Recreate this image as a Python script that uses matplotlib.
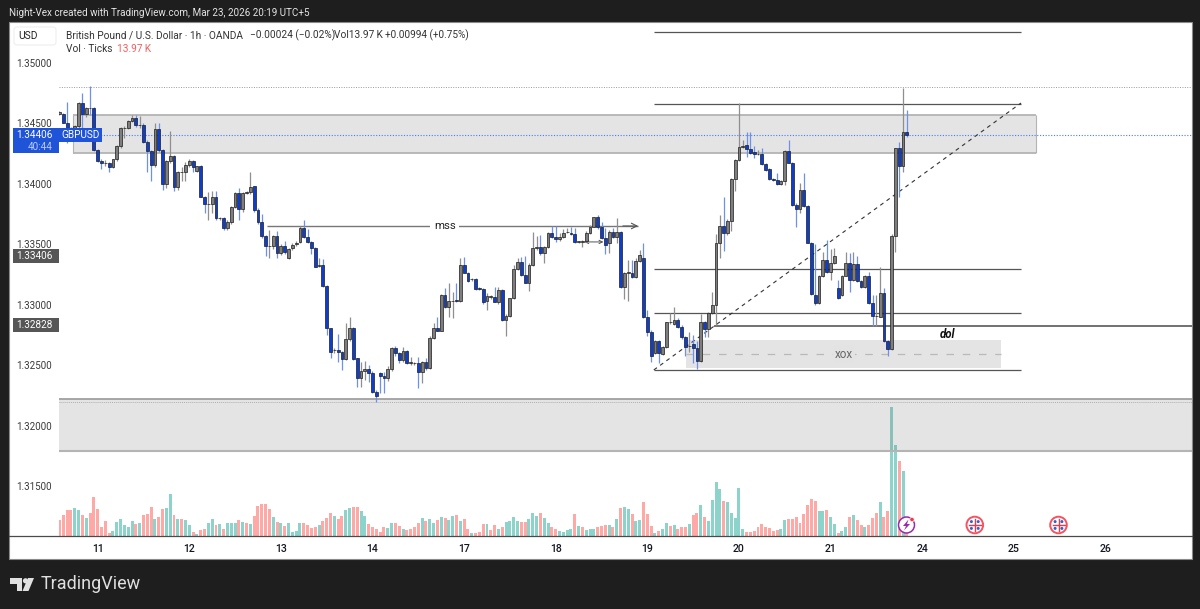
import matplotlib
matplotlib.use("Agg")
import matplotlib.pyplot as plt
from matplotlib.patches import Rectangle, Circle, Polygon, FancyBboxPatch

# ---------- data (prices given as pips above 1.3000) ----------
open_pips = [457.8,457.5,450.6,446.5,441.8,447.9,467.2,457.5,463,462.5,
428,418.9,417,417.5,413.7,420.3,431.3,445.9,446,452,
454.2,448.7,449,434.9,427.2,416,445.7,428,399.6,418.9,
423,397.7,410,410,415.3,418.9,411,414.8,389.4,383,
383,388.9,371.5,372,363.2,368.7,381,392.7,379,392.7,
393.5,398.3,378.4,368.8,357.2,348.6,348.6,357,342.6,348.6,
339,346.7,350,352.2,363.8,356.4,352.2,346.7,332.4,332.6,
315.8,280.5,262.6,262.6,260.7,255,271.7,281,255.7,239.2,
245,247,243.9,227.6,243.3,241.1,239.2,246.9,264,260,
254,262,252.1,251.6,251.6,244.1,252.4,248,272.8,280.5,
278.6,308.1,298,303.2,304,303.2,332.9,326.6,321,321.4,
313.6,313,303.4,306.7,306.2,302,312.3,287.4,290.8,305.4,
329.4,335.7,324.7,317.8,332.9,346.7,348.1,342.6,347.5,359.1,
356.4,354.2,356.4,359.9,359.7,358.3,352.2,352.2,353,359.1,
364.6,372.4,364.6,355,350.9,360,355.8,360.5,314.5,326.6,
326.6,322.7,336.2,338.4,290.2,277.8,259.9,270.1,259.3,265,
285.5,284,287.5,281.9,273.1,266,267.3,264,253.8,285.5,
279.7,293,299.9,350.9,365.2,359.1,369.6,403.8,419.8,430.3,
431.9,428.6,426.4,424.8,424.8,416.2,412,404.4,403.3,400,
402.7,427.2,417.6,382.6,379,395,381.8,351.4,308.1,301.8,
323.8,337,326.8,334.3,313.6,308,324.1,334.8,320.5,333.4,
319.6,315,324.1,301.7,290.7,290.1,309.5,270,263.1,357.1,
429.9,415,443.2]
close_pips = [459.7,450.6,446.5,441.8,447.9,467.2,457.5,463,462.5,428,
418.9,417,417.5,413.7,420.3,431.3,445.9,446,452,454.2,
448.7,449,434.9,427.2,416,445.7,428,399.6,418.9,423,
397.7,410,410,415.3,418.9,414.2,414.5,389.4,383,383,
388.9,371.5,372,363.2,368.7,381,392.7,379,392.7,393.5,
397.7,378.4,368.8,357.2,348.6,348.6,357,342.6,348.6,343.7,
345.9,349.5,351.5,363.8,356.4,352.2,346.7,331.5,332.4,315.8,
280.5,261.2,262.6,260.7,255,271.7,280.5,255.2,239.2,245.3,
247,243.9,227.6,224.6,241.1,239.2,246.9,264,259.8,254,
262,252.1,252.1,251.6,244.1,252.4,248,272.8,280.5,278.6,
308.1,298,303.2,303.2,303.2,332.9,326.6,319.7,321.1,313.1,
312.8,302.6,307.3,306.7,302.6,312.3,287.4,290.8,305.4,329.4,
335.7,324.7,318.3,332.9,347.3,348.1,342.6,347.5,359.1,356.4,
354.2,356.4,359.7,360,358.3,352.2,352.2,353,359.1,364.6,
372.4,364.1,355.5,349.5,360.5,356.4,360,314.5,326.6,326.6,
322.7,336.2,341.2,289.7,277.8,258,270.1,259.9,265.4,285.5,
285.5,287.5,281.9,273.1,264.9,266,264,253.8,285.5,279.7,
293,299.9,350.9,365.2,359.1,369.6,403.8,419.8,430.3,431.4,
429.2,425.9,424.8,424.8,416.5,411.5,404.4,403.3,399.7,402.7,
427.2,417.6,382.6,379,395,381.8,351.4,308.7,301.8,323.9,
337,326.8,334.3,340.6,305.3,324.1,334.8,320.5,333.4,319.6,
315,324.1,301.7,290.7,290.7,309.5,270,263.1,357.1,429.4,
415,443.2,440.4]
high_pips = [460.3,458.4,467.5,447,448.4,468,474.9,464,481,463.5,
428.5,421,420,418,421,432,447,447.5,453,457,
457,456,450,436,428,450.6,450.1,429,419.5,444,
424,411,414,418,421,420,415,415.3,390,393,
394,394,373,373,370,382,393.5,397,393.5,394,
409.6,398.5,380,375,358,362,358,361,350,353,
347,351,353,365.5,370,363,353,347.5,339,338,
316.5,281,264,276,262,284.7,290,282,256,253,
253.5,250,245,229.5,244.7,244.7,249,265,266,261,
265.5,263,257,253,257,253.5,255.7,274,284.7,290,
309,313.6,317.8,310.9,317.8,338.5,339.8,327,322,322,
314.5,313.5,309.5,308,315,315,313,292,306,332.9,
338.4,339.8,340.4,334.3,360.5,356.9,357.7,348.5,359.9,365.2,
365.2,359.1,362.4,363.3,364.6,363.3,353,354,361,366,
373,374.3,368.8,363.3,361.9,363.3,371.5,361,327.5,337,
337,338.4,345.3,351.4,295.7,279,271,271,266,286,
292.9,298.5,289,283,274,277.8,275,270.4,292,287,
294,310.9,358.9,374.3,389.5,371,405,421,467.2,436.3,
442.7,442.7,431.4,428,429.4,417,413,405,409.3,403.5,
428,436.3,418.5,384,400.5,409.3,382.5,352,350.3,324.5,
343.9,353.6,345.8,347.2,320.5,325,343.9,343.1,343.9,340.6,
320.5,325,327.4,308,308,331.5,313.6,271,358.5,430,
434.9,479,461]
low_pips = [457.3,450.1,433.5,438,436,443,444.6,455.6,457,427.5,
418.4,412,415,410,413,419,430,437.7,445,451,
447,446,434,410,402,414,426,395,397,417,
394,395,402,402,413.7,410,410,389,376,370,
376,370,370,362,362,367,380,370,377,392,
392,377,367,355,340,338.5,346,339,341,342,
338,345.5,349,351,355,351,342,331,331,315,
275,256,260,253,246,254,270,254,231.7,232,
237.8,236.4,227,219.3,226.8,226.8,237,245,258,252,
253,251,250,250,231,235.6,246,247,272,278,
278,297,290,289,302.5,302.5,327,319,320,312.5,
312,300.7,295.7,305,302,301,287,274.2,290,305,
329,323.8,317.8,311.7,332,345,341,334.3,347,355,
352.2,353,355.5,359,358,351.5,351.5,348,352,358.5,
364,363,354.5,342,343.1,355.5,350.9,314,304.8,303.4,
322,322,335.5,289.3,274,253,259,252,258.5,264.5,
284,283,281,272,258,261,252,246.6,253,273,
273,292,283.3,338.5,344.8,358,361.1,394.5,419,429.5,
422.6,425,421.2,424,415.5,410.5,403.5,402.5,399,399,
399.1,417,382,364.1,376.2,381,351,308,299.9,301,
323,326,320.5,333.5,304.5,307,323.5,310.3,320,319,
313.6,314,301,282.4,282.4,289.5,269.5,257.6,262.5,343.4,
388.8,410.1,438.5]
volume_k = [16,21,26,26,28,26,21,18,23,39,
27,9,15,3,5,14,17,11,9,15,
12,13,21,22,29,17,19,27,28,42,
21,17,17,16,11,4,2,6,7,13,
17,11,12,7,13,13,13,16,14,13,
12,20,30,32,32,27,19,14,13,10,
13,4,5,13,13,11,8,9,11,15,
18,23,20,17,20,26,28,29,29,25,
20,12,9,7,4,9,8,13,13,10,
7,6,7,9,13,18,15,17,13,16,
19,18,16,20,21,15,17,7,3,3,
4,12,12,6,11,7,9,14,15,19,
15,14,14,17,23,20,23,18,13,9,
7,5,4,6,7,22,10,9,6,7,
7,9,10,11,11,9,17,28,29,27,
22,15,16,34,22,10,3,5,7,13,
10,11,7,9,9,12,21,23,31,19,
15,36,54,47,35,34,23,18,48,7,
4,4,5,9,12,9,8,5,6,7,
16,17,17,19,13,22,31,37,35,25,
25,26,19,12,3,5,9,19,21,16,
11,9,11,18,23,34,19,25,129,91,
75,65,14]
volume_dir = ("RRRRTTRTRR" "RRRRTTTTTT" "RTRRRTRRTT" "RTRTTRTRRT" "TRTRTTTRTR"
              "TRRRRRTRTR" "TTTTRRRRTR" "RRTRRTTRRT" "TRRRRRTTRR" "TRRRRTRTTR"
              "TRTTRTRRTR" "RRTRRTRTTT" "TRRTTTRTTR" "RTTTTRTRTT" "TRRRTRTRTT"
              "RTTRRRTRTT" "RTRRRTRRTR" "TTTTRTTTTT" "RRRRRRRRRT" "TRRRRRRRRT"
              "TRTTRTTRTR" "RTRRRTRRTT" "RTR")
day_ticks = [10, 34, 58, 82, 106, 130, 154, 178, 202, 226, 250, 274]
day_labels = ["11","12","13","14","17","18","19","20","21","24","25","26"]
price_ticks = [1.315, 1.32, 1.325, 1.33, 1.335, 1.34, 1.345, 1.35]

# drawings (candle index, price)
zone_top = (3.5, 255.8, 1.34256, 1.34570)
zone_xox = (164.1, 246.6, 1.32477, 1.32709)
zone_low = (1.31791, 1.32221)
fib_start, fib_end = 155.7, 251.9
fib_levels = [1.35256, 1.34661, 1.33300, 1.32932, 1.32461]
diag_prices = (1.32461, 1.34669)
mss_level, mss_start, mss_end = 1.33652, 54.4, 151.6
dol_level, dol_start = 1.32828, 171.5
high_dotted = 1.34801
low_dotted = 1.32200
last_price = 1.34406

plt.rcParams['font.family'] = ['Roboto', 'DejaVu Sans']
W, H = 1200, 609
BG = '#1e1e1e'
fig = plt.figure(figsize=(W/100, H/100), dpi=100, facecolor=BG)

def to_price(p):
    return [1.3 + v/10000 for v in p]

opens, closes, highs, lows = map(to_price, (open_pips, close_pips, high_pips, low_pips))
n = len(closes)
xs = list(range(n))

# white panel
panel = fig.add_axes([0, 0, 1, 1], zorder=0)
panel.set_xlim(0, W); panel.set_ylim(H, 0); panel.axis('off')
panel.add_patch(Rectangle((9, 22), 1183, 537, fc='white', ec='#8a8a8a', lw=0.8))

rect = [59/W, (H-536)/H, 1133/W, 514/H]
# volume axes
axv = fig.add_axes(rect, zorder=1)
axv.set_xlim(-0.13, 296.7); axv.set_ylim(0, 514)
axv.axis('off')
axv.bar(xs, volume_k, width=0.78,
        color=['#8cd3cb' if d == 'T' else '#ffa9a7' for d in volume_dir], lw=0)

# price axes
ax = fig.add_axes(rect, zorder=2)
ax.patch.set_alpha(0)
ax.set_xlim(-0.13, 296.7)
ax.set_ylim(1.35 - (536-63)/12090, 1.35 + (63-22)/12090)
for s in ax.spines.values():
    s.set_visible(False)
ax.set_yticks(price_ticks)
ax.set_yticklabels([f"{p:.5f}" for p in price_ticks], color='#3a3a3a', fontsize=7.1)
ax.set_xticks(day_ticks)
ax.set_xticklabels(day_labels, color='#131722', fontsize=7.6, fontweight='medium')
ax.tick_params(axis='y', length=0, pad=5)
ax.tick_params(axis='x', length=0, pad=6)

ZONE = (0.47, 0.47, 0.47, 0.2)
EDGE = '#b4b4b4'
# zones
x0, x1, y0, y1 = zone_top
ax.add_patch(Rectangle((x0, y0), x1-x0, y1-y0, fc=ZONE, ec='none', zorder=1))
ax.hlines([y0, y1], x0, x1, color=EDGE, lw=1.3, zorder=1)
ax.vlines([x0, x1], y0, y1, color=EDGE, lw=0.8, zorder=1)
ax.axhspan(zone_low[0], zone_low[1], fc=ZONE, ec='none', zorder=1)
ax.axhline(zone_low[0], color=EDGE, lw=1.5, zorder=1)
ax.axhline(zone_low[1], color='#a0a0a0', lw=1.3, zorder=1)
ax.axhline(low_dotted, color='#b0b0b0', lw=0.7, ls=(0, (1, 1)), zorder=1)
x0, x1, y0, y1 = zone_xox
ax.add_patch(Rectangle((x0, y0), x1-x0, y1-y0, fc=ZONE, ec='none', zorder=1))
ax.hlines((y0+y1)/2, x0, x1, color='#b9b9b9', lw=0.9, ls=(0, (6, 7)), zorder=1.2)

# dotted lines
ax.axhline(high_dotted, color='#9a9a9a', lw=0.7, ls=(0, (1, 1.5)), zorder=1.5)
ax.axhline(last_price, color='#4a7df0', lw=0.8, ls=(0, (1, 1.5)), zorder=1.5)

# fib style lines
ax.hlines(fib_levels, fib_start, fib_end, color='#555555', lw=0.9, zorder=1.6)
ax.plot([fib_start, fib_end], diag_prices, color='#333333', lw=0.8, ls=(0, (3.5, 3.5)), zorder=1.7)
ax.hlines(dol_level, dol_start, 296.7, color='#666666', lw=1.3, zorder=1.6)
ax.hlines(mss_level, mss_start, mss_end, color='#777777', lw=1.0, zorder=1.6)
ax.annotate('', xy=(mss_end, mss_level), xytext=(mss_end-4, mss_level), zorder=1.6,
            arrowprops=dict(arrowstyle='->', color='#555555', lw=0.8, shrinkA=0, shrinkB=0, mutation_scale=10))
ax.annotate('', xy=(137.5, 1.33520), xytext=(142.5, 1.33520), zorder=3,
            arrowprops=dict(arrowstyle='<->', color='#555555', lw=0.7, shrinkA=0, shrinkB=0, mutation_scale=6))

# candles
UP, DOWN = '#7e7e7e', '#0c3ed4'
WUP, WDOWN = '#8f8f8f', '#6d90ea'
is_up = [c >= o for o, c in zip(opens, closes)]
ax.vlines(xs, lows, highs, colors=[WUP if u else WDOWN for u in is_up], lw=0.9, zorder=3)
bottoms = [min(o, c) for o, c in zip(opens, closes)]
heights = [max(abs(c-o), 0.00002) for o, c in zip(opens, closes)]
ax.bar(xs, heights, bottom=bottoms, width=0.74,
       color=[UP if u else DOWN for u in is_up], edgecolor='#1c1c1c', lw=0.5, zorder=4)

ax.text(100.9, mss_level, 'mss', ha='center', va='center', fontsize=8.2, color='#222222',
        bbox=dict(fc='white', ec='none', pad=2.5), zorder=2)
ax.text(205.5, (zone_xox[2]+zone_xox[3])/2, 'xox', ha='center', va='center', fontsize=8.4, color='#666666',
        bbox=dict(fc='#e3e3e3', ec='none', pad=1.5), zorder=2)
ax.text(232.6, 1.32752, 'dol', ha='center', va='center', fontsize=8.3, color='#111111',
        fontweight='bold', fontstyle='italic', zorder=2)

# overlay chrome in pixel space
ov = fig.add_axes([0, 0, 1, 1], zorder=3)
ov.patch.set_alpha(0)
ov.set_xlim(0, W); ov.set_ylim(H, 0); ov.axis('off')
ov.plot([9, 1192], [536, 536], color='#4a4a4a', lw=0.9)

ov.text(9, 13.5, 'Night-Vex created with TradingView.com, Mar 23, 2026 20:19 UTC+5',
        color='#e4e4e4', fontsize=7.15, va='center')
ov.add_patch(FancyBboxPatch((14, 27), 42, 18, boxstyle='round,pad=0,rounding_size=3', fc='white', ec='#eeeeee', lw=0.8))
ov.text(28, 36, 'USD', color='#222222', fontsize=7.4, ha='center', va='center')
ov.text(66, 35.5, 'British Pound / U.S. Dollar · 1h · OANDA', color='#333333', fontsize=7.3, va='center')
ov.text(250, 35.5, '\u22120.00024 (\u22120.02%)', color='#333333', fontsize=7.3, va='center')
ov.text(334, 35.5, 'Vol13.97\u2009K', color='#333333', fontsize=7.3, va='center')
ov.text(385, 35.5, '+0.00994 (+0.75%)', color='#333333', fontsize=7.2, va='center')
ov.text(66, 49.5, 'Vol · Ticks', color='#333333', fontsize=7.3, va='center')
ov.text(117, 49.5, '13.97\u2009K', color='#f0605f', fontsize=7.3, va='center')

# price labels
BLUE = '#1f54d8'
ov.add_patch(Rectangle((13, 128), 46, 25, fc=BLUE, ec='none'))
ov.add_patch(Rectangle((59, 128), 43, 14, fc=BLUE, ec='none'))
ov.text(52.5, 135, '1.34406', color='white', fontsize=7.2, ha='right', va='center')
ov.text(52.5, 146.5, '40:44', color='#b9cbf5', fontsize=7.2, ha='right', va='center')
ov.text(80.5, 135, 'GBPUSD', color='white', fontsize=7.2, ha='center', va='center')
for yc, txt in ((256, '1.33406'), (325, '1.32828')):
    ov.add_patch(Rectangle((13, yc-7), 46, 14, fc='#565656', ec='none'))
    ov.text(52.5, yc+0.3, txt, color='white', fontsize=7.2, ha='right', va='center')

# event icons
ov.add_patch(Circle((906.5, 525), 8, fc='white', ec='#9c27b0', lw=1.1))
ov.add_patch(Polygon([[908.5, 519.5], [903, 526], [906, 526], [904, 530.5], [910, 524], [907, 524]],
                     closed=True, fc='#9c27b0', ec='none'))
ov.add_patch(Circle((912, 519.5), 2.2, fc='#f23645', ec='white', lw=0.5))
for cx in (974.8, 1058.5):
    ov.add_patch(Circle((cx, 525), 8.3, fc='white', ec='#f7525f', lw=1.4))
    for dx, dy in ((-3.4, -3.4), (3.4, -3.4), (-3.4, 3.4), (3.4, 3.4)):
        ov.add_patch(Circle((cx+dx, 525+dy), 1.5, fc='#2a62cf', ec='none'))
    ov.plot([cx-6, cx+6], [525, 525], color='#f23645', lw=1.0)
    ov.plot([cx, cx], [519, 531], color='#f23645', lw=1.0)

# logo
LOGO = '#e0e0e0'
ov.add_patch(Polygon([[10, 578], [22, 578], [22, 591], [16.5, 591], [16.5, 584], [10, 584]], closed=True, fc=LOGO, ec='none'))
ov.add_patch(Circle((25.5, 580.8), 2.6, fc=LOGO, ec='none'))
ov.add_patch(Polygon([[34, 578], [28.5, 591], [22.5, 591], [28, 578]], closed=True, fc=LOGO, ec='none'))
ov.text(40.5, 584, 'TradingView', color=LOGO, fontsize=13, va='center')

fig.savefig('out.png', dpi=100, facecolor=BG)
